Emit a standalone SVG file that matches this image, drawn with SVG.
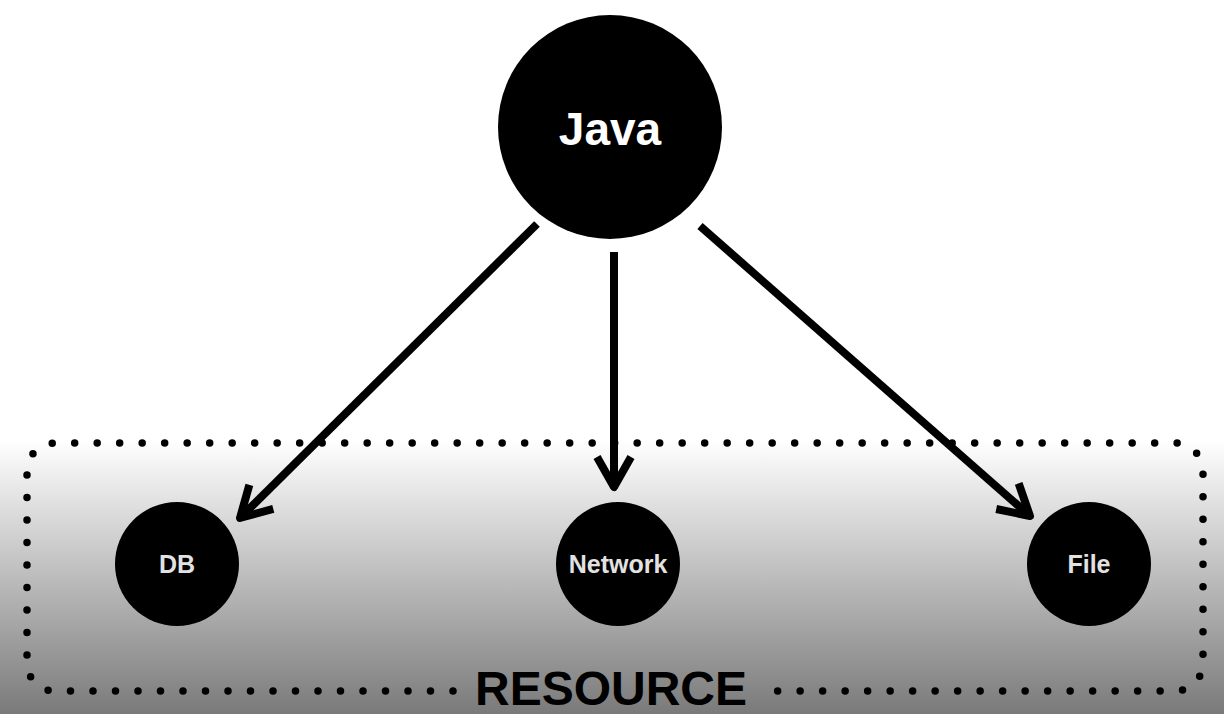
<svg xmlns="http://www.w3.org/2000/svg" width="1224" height="714" viewBox="0 0 1224 714">
  <defs>
    <linearGradient id="bg" x1="0" y1="0" x2="0" y2="1">
      <stop offset="0" stop-color="#ffffff"/>
      <stop offset="1" stop-color="#7a7a7a"/>
    </linearGradient>
    <marker id="chev" markerUnits="userSpaceOnUse" markerWidth="50" markerHeight="50" viewBox="-40 -25 50 50" refX="0" refY="0" orient="auto">
      <path d="M -30 -17 L 0 0 L -30 17" fill="none" stroke="#000" stroke-width="8" stroke-linejoin="round"/>
    </marker>
    <style>
      .node { fill: #000; }
      .big { font-family: "Liberation Sans", Arial, sans-serif; font-weight: bold; font-size: 46px; fill: #fff; text-anchor: middle; }
      .small { font-family: "Liberation Sans", Arial, sans-serif; font-weight: bold; font-size: 25px; fill: #e2e2e2; text-anchor: middle; }
      .edge { stroke: #000; stroke-width: 8; fill: none; marker-end: url(#chev); }
      .dots { fill: none; stroke: #000; stroke-width: 7.5; stroke-linecap: round; stroke-dasharray: 0 22.5; }
      .title { font-family: "Liberation Sans", Arial, sans-serif; font-weight: bold; font-size: 48px; fill: #000; text-anchor: middle; }
    </style>
  </defs>
  <rect x="0" y="0" width="1224" height="714" fill="#fff"/>
  <rect x="0" y="440" width="1224" height="274" fill="url(#bg)"/>

  <g id="resource-group">
    <path class="dots" d="M 453 691 H 55 A 28 28 0 0 1 27 663 V 471 A 28 28 0 0 1 55 443 H 1175 A 28 28 0 0 1 1203 471 V 663 A 28 28 0 0 1 1175 691 H 770"/>
    <text class="title" x="611" y="705">RESOURCE</text>
  </g>

  <g id="connectors">
    <line class="edge" x1="537" y1="224" x2="240" y2="518"/>
    <line class="edge" x1="614" y1="252" x2="614" y2="487"/>
    <line class="edge" x1="700" y1="226" x2="1030" y2="516"/>
  </g>

  <g id="node-java">
    <circle class="node" cx="610" cy="127" r="112"/>
    <text class="big" x="610" y="145">Java</text>
  </g>
  <g id="node-db">
    <circle class="node" cx="177" cy="564" r="62"/>
    <text class="small" x="177" y="573">DB</text>
  </g>
  <g id="node-network">
    <circle class="node" cx="618" cy="564" r="62"/>
    <text class="small" x="618" y="573">Network</text>
  </g>
  <g id="node-file">
    <circle class="node" cx="1089" cy="564" r="62"/>
    <text class="small" x="1089" y="573">File</text>
  </g>
</svg>
